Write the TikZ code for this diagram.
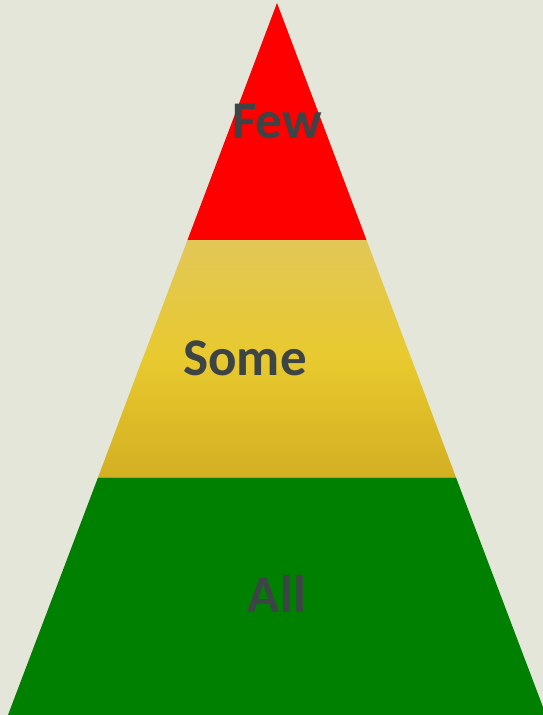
\documentclass[tikz,border=0pt]{standalone}
\usepackage{fontspec}
\setmainfont{Carlito}
\definecolor{bg}{HTML}{E4E6DA}
\definecolor{redband}{HTML}{FF0000}
\definecolor{greenband}{HTML}{008000}
\definecolor{ytop}{HTML}{E2C757}
\definecolor{ymid}{HTML}{E8C92E}
\definecolor{ybot}{HTML}{D3AF22}
\definecolor{txt}{HTML}{3D4446}
\begin{document}
\begin{tikzpicture}[x=1pt,y=-1pt,
  lbl/.style={font=\fontsize{53}{60}\selectfont\bfseries, text=txt, anchor=base, inner sep=0pt}]
\useasboundingbox (0,0) rectangle (543,715);
\fill[bg] (0,0) rectangle (543,715);
% bands
\fill[redband] (277,3) -- (366.5,240) -- (187.5,240) -- cycle;
\shade[top color=ytop, bottom color=ymid] (187.5,240) -- (366.5,240) -- (411.4,359) -- (142.6,359) -- cycle;
\shade[top color=ymid, bottom color=ybot] (142.6,358.6) -- (411.4,358.6) -- (456,477.5) -- (98,477.5) -- cycle;
\fill[greenband] (98,477.5) -- (456,477.5) -- (546,715) -- (8,715) -- cycle;
% labels
\node[lbl] (few) at (277,138) {Few};
\node[lbl] (some) at (245,375) {Some};
\node[lbl] (all) at (277,612) {All};
\end{tikzpicture}
\end{document}
